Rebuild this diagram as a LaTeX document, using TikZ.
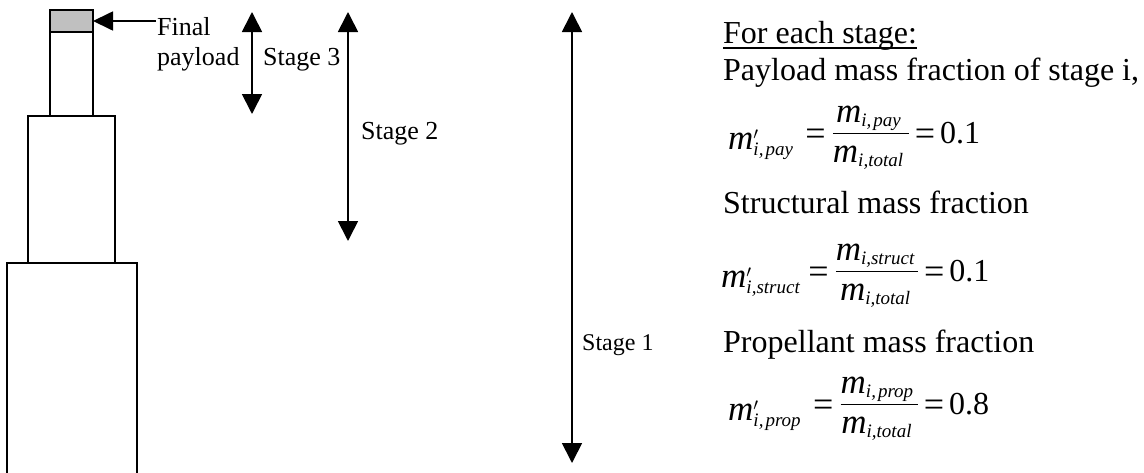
\documentclass[tikz,border=0pt]{standalone}
\usepackage{amsmath}
\usepackage{fontspec}
\setmainfont{Liberation Serif}
\usetikzlibrary{arrows.meta}
\DeclareMathSizes{32}{32}{19}{14}
\newcommand\mv[1]{\text{\itshape #1}}
\newcommand\mm{\text{\fontsize{35}{38}\selectfont\itshape m}}
\newcommand\bigeq{\lower5pt\hbox{\fontsize{36}{40}\selectfont=}}
\newcommand\frm[6]{$\displaystyle
  \lower9pt\hbox{$\mm'_{\mv{#1}}$}\kern#6 \bigeq\kern6pt
  \frac{\rule[-8pt]{0pt}{8pt}\mm_{\mv{#2}}\kern#4}{\rule{0pt}{25pt}\mm_{\mv{i,total}}\kern#5}
  \kern5pt\bigeq\kern5pt\lower3pt\hbox{#3}$}
\definecolor{plgray}{RGB}{192,192,192}
\tikzset{
  part/.style={draw=black, line width=1.7pt, inner sep=0pt, outer sep=0pt},
  dimarrow/.style={line width=1.7pt, {Triangle[width=20pt,length=20pt]}-{Triangle[width=20pt,length=20pt]}},
  ptr/.style={line width=1.7pt, -{Triangle[width=19pt,length=20pt]}},
  lbl/.style={inner sep=0pt, anchor=base west, font=\fontsize{26}{30}\selectfont},
  txt/.style={inner sep=0pt, anchor=base west, font=\fontsize{32}{38}\selectfont},
}
\begin{document}
\begin{tikzpicture}[x=1pt,y=-1pt]
\clip (0,0) rectangle (1144,472);
\fill[white] (0,0) rectangle (1144,472);
% rocket
\node[part, minimum width=130pt, minimum height=237pt] (s1box) at (72,381.5) {};
\node[part, minimum width=87pt, minimum height=147pt] (s2box) at (71.5,189.5) {};
\node[part, minimum width=43pt, minimum height=84pt] (s3box) at (71.5,74) {};
\node[part, fill=plgray, minimum width=43pt, minimum height=22pt] (pay) at (71.5,21) {};
% final payload label
\node[lbl] (final) at (157,35) {Final};
\node[lbl] (payload) at (157,65) {payload};
\coordinate (plstart) at (156,21);
\draw[ptr] (plstart) -- (pay.east);
% stage dimension arrows
\coordinate (s3t) at (252,12);
\coordinate (s3b) at (252,114);
\draw[dimarrow] (s3t) -- (s3b);
\node[lbl] (st3) at (263,65) {Stage 3};
\coordinate (s2t) at (348,12);
\coordinate (s2b) at (348,241);
\draw[dimarrow] (s2t) -- (s2b);
\node[lbl] (st2) at (361,139) {Stage 2};
\coordinate (s1t) at (572,12);
\coordinate (s1b) at (572,463);
\draw[dimarrow] (s1t) -- (s1b);
\node[lbl, font=\fontsize{24}{28}\selectfont] (st1) at (582,350) {Stage 1};
% right-hand text
\node[txt] (head) at (723,43) {For each stage:};
\draw[line width=1.4pt] ([yshift=-5pt]head.base west) -- ([yshift=-5pt]head.base east);
\node[txt] (t1) at (723,80) {Payload mass fraction of stage i,};
\node[txt] (f1) at (728,140) {\frm{i,\kern2pt pay}{i,\kern2pt pay}{0.1}{4pt}{5pt}{12pt}};
\node[txt] (t2) at (723,213) {Structural mass fraction};
\node[txt] (f2) at (721,278) {\frm{i,struct}{i,struct}{0.1}{3pt}{3pt}{8pt}};
\node[txt] (t3) at (723,352) {Propellant mass fraction};
\node[txt] (f3) at (728,411) {\frm{i,\kern2pt prop}{i,\kern2pt prop}{0.8}{4pt}{5pt}{12pt}};
\end{tikzpicture}
\end{document}
